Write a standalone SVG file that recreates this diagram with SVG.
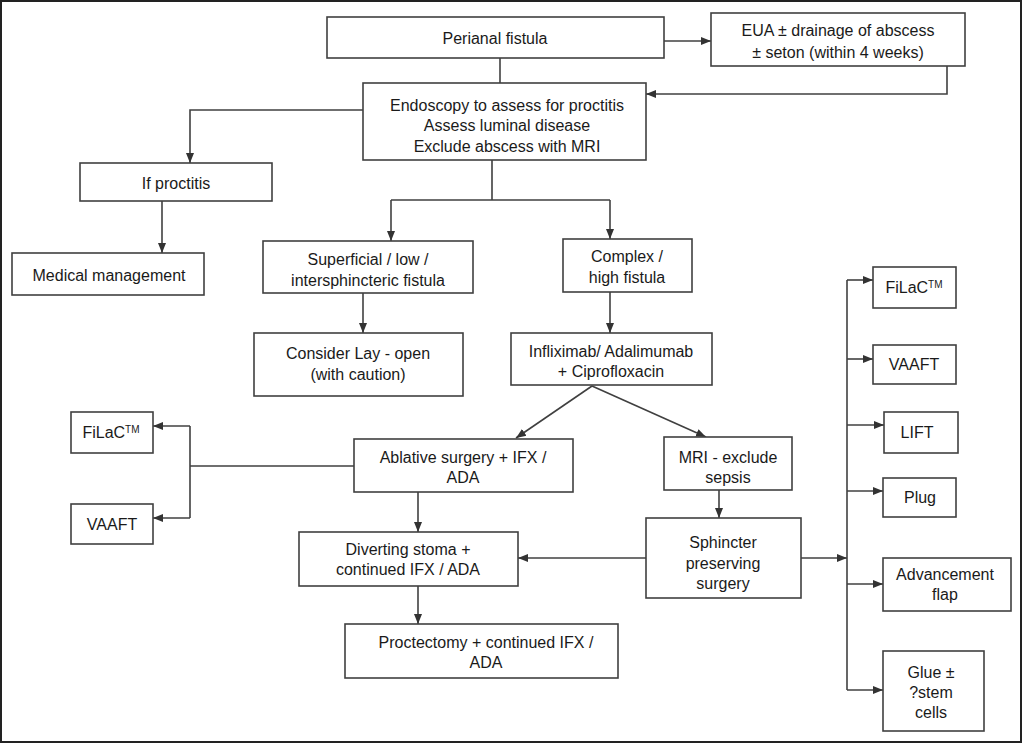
<svg xmlns="http://www.w3.org/2000/svg" width="1023" height="744" viewBox="0 0 1023 744">
<style>
.box{fill:#fff;stroke:#404040;stroke-width:1.6}
.t{font-family:"Liberation Sans",Arial,sans-serif;font-size:16px;fill:#1a1a1a;text-anchor:middle}
.tm{font-size:10px}
.c{fill:none;stroke:#404040;stroke-width:1.6}
.a{marker-end:url(#ah)}
</style>
<defs>
<marker id="ah" markerUnits="userSpaceOnUse" markerWidth="10" markerHeight="10" viewBox="0 0 10 10" refX="10" refY="5" orient="auto">
<path d="M0,1 L10,5 L0,9 Z" fill="#333"/>
</marker>
</defs>
<rect x="1" y="1" width="1020" height="741" fill="#fff" stroke="#222" stroke-width="2"/>
<g id="connectors">
<path class="c a" d="M664,41 H711"/>
<path class="c a" d="M947,66 V94 H646"/>
<path class="c" d="M500,58 V83"/>
<path class="c a" d="M363,110 H190 V163"/>
<path class="c a" d="M162,201 V253"/>
<path class="c" d="M492,160 V200 M391,200 H610"/>
<path class="c a" d="M391,200 V241"/>
<path class="c a" d="M610,200 V239"/>
<path class="c a" d="M363,293 V333"/>
<path class="c a" d="M610,292 V333"/>
<path class="c a" d="M592,386 L516,438"/>
<path class="c a" d="M592,386 L706,437"/>
<path class="c" d="M354,466 H190 M190,426 V518"/>
<path class="c a" d="M190,426 H153"/>
<path class="c a" d="M190,518 H153"/>
<path class="c a" d="M418,492 V532"/>
<path class="c a" d="M418,586 V624"/>
<path class="c a" d="M719,490 V518"/>
<path class="c a" d="M646,558 H518"/>
<path class="c a" d="M801,558 H847"/>
<path class="c" d="M847,280 V690"/>
<path class="c a" d="M847,280 H873"/>
<path class="c a" d="M847,359 H873"/>
<path class="c a" d="M847,425 H884"/>
<path class="c a" d="M847,491 H883"/>
<path class="c a" d="M847,584 H883"/>
<path class="c a" d="M847,690 H883"/>
</g>
<g id="perianal"><rect class="box" x="327" y="17" width="337" height="41"/><text class="t" x="495" y="44">Perianal fistula</text></g>
<g id="eua"><rect class="box" x="711" y="13" width="254" height="53"/><text class="t" x="838" y="36">EUA ± drainage of abscess</text><text class="t" x="838" y="58">± seton (within 4 weeks)</text></g>
<g id="endoscopy"><rect class="box" x="363" y="83" width="283" height="77"/><text class="t" x="507" y="111">Endoscopy to assess for proctitis</text><text class="t" x="507" y="131">Assess luminal disease</text><text class="t" x="507" y="152">Exclude abscess with MRI</text></g>
<g id="proctitis"><rect class="box" x="80" y="163" width="192" height="38"/><text class="t" x="176" y="189">If proctitis</text></g>
<g id="medical"><rect class="box" x="12" y="253" width="192" height="42"/><text class="t" x="109" y="281">Medical management</text></g>
<g id="superficial"><rect class="box" x="263" y="241" width="210" height="52"/><text class="t" x="368" y="265">Superficial / low /</text><text class="t" x="368" y="286">intersphincteric fistula</text></g>
<g id="complex"><rect class="box" x="563" y="239" width="129" height="53"/><text class="t" x="627" y="262">Complex /</text><text class="t" x="627" y="283">high fistula</text></g>
<g id="layopen"><rect class="box" x="254" y="333" width="209" height="63"/><text class="t" x="358" y="359">Consider Lay - open</text><text class="t" x="358" y="380">(with caution)</text></g>
<g id="infliximab"><rect class="box" x="511" y="333" width="201" height="52"/><text class="t" x="611" y="357">Infliximab/ Adalimumab</text><text class="t" x="611" y="377">+ Ciprofloxacin</text></g>
<g id="filac-left"><rect class="box" x="71" y="412" width="82" height="41"/><text class="t" x="111" y="438">FiLaC<tspan class="tm" dy="-5">TM</tspan></text></g>
<g id="vaaft-left"><rect class="box" x="71" y="504" width="82" height="40"/><text class="t" x="112" y="530">VAAFT</text></g>
<g id="ablative"><rect class="box" x="354" y="439" width="219" height="53"/><text class="t" x="463" y="463">Ablative surgery + IFX /</text><text class="t" x="463" y="483">ADA</text></g>
<g id="mri"><rect class="box" x="664" y="437" width="128" height="53"/><text class="t" x="728" y="463">MRI - exclude</text><text class="t" x="728" y="483">sepsis</text></g>
<g id="diverting"><rect class="box" x="299" y="532" width="219" height="54"/><text class="t" x="408" y="555">Diverting stoma +</text><text class="t" x="408" y="575">continued IFX / ADA</text></g>
<g id="sphincter"><rect class="box" x="646" y="518" width="155" height="80"/><text class="t" x="723" y="548">Sphincter</text><text class="t" x="723" y="569">preserving</text><text class="t" x="723" y="589">surgery</text></g>
<g id="proctectomy"><rect class="box" x="345" y="624" width="273" height="54"/><text class="t" x="486" y="648">Proctectomy + continued IFX /</text><text class="t" x="486" y="668">ADA</text></g>
<g id="filac-right"><rect class="box" x="873" y="267" width="83" height="41"/><text class="t" x="914" y="293">FiLaC<tspan class="tm" dy="-5">TM</tspan></text></g>
<g id="vaaft-right"><rect class="box" x="873" y="345" width="83" height="39"/><text class="t" x="914" y="370">VAAFT</text></g>
<g id="lift"><rect class="box" x="884" y="412" width="74" height="41"/><text class="t" x="917" y="438">LIFT</text></g>
<g id="plug"><rect class="box" x="883" y="478" width="73" height="39"/><text class="t" x="920" y="503">Plug</text></g>
<g id="advancement"><rect class="box" x="883" y="558" width="128" height="53"/><text class="t" x="945" y="580">Advancement</text><text class="t" x="945" y="600">flap</text></g>
<g id="glue"><rect class="box" x="883" y="651" width="101" height="80"/><text class="t" x="931" y="678">Glue ±</text><text class="t" x="931" y="698">?stem</text><text class="t" x="931" y="718">cells</text></g>
</svg>
